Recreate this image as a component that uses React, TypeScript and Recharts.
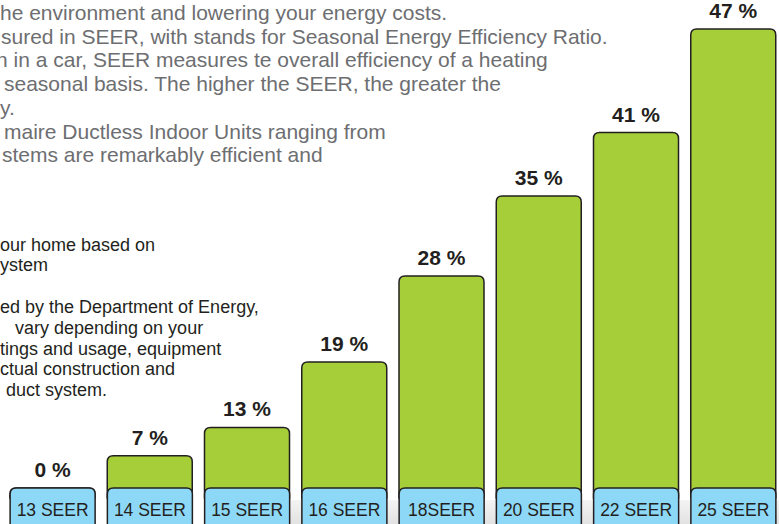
import React from "react"
import { BarChart, Bar, XAxis, YAxis, LabelList } from "recharts"

// SEER ratings and the savings printed above each bar
const categories = ["13 SEER", "14 SEER", "15 SEER", "16 SEER", "18SEER", "20 SEER", "22 SEER", "25 SEER"]
const savingsPercent = [0, 7, 13, 19, 28, 35, 41, 47]
// bar heights as drawn in the graphic (not to scale with the printed %), in % units
const drawnHeight = [0, 3.3, 6.2, 12.9, 21.7, 29.9, 36.4, 47]

// page copy sitting behind the chart (cut off at the left edge)
const introLines = [
  "he environment and lowering your energy costs.",
  "sured in SEER, with stands for Seasonal Energy Efficiency Ratio.",
  "n in a car, SEER measures te overall efficiency of a heating",
  "seasonal basis. The higher the SEER, the greater the",
  "y.",
  "maire Ductless Indoor Units ranging from",
  "stems are remarkably efficient and"
]
const introIndent = [0, 1, -4, 4, 0, 4, 2]
const noteLines = [
  "our home based on",
  "ystem",
  "",
  "ed by the Department of Energy,",
  "vary depending on your",
  "tings and usage, equipment",
  "ctual construction and",
  "duct system."
]
const noteIndent = [0, 0, 0, 0, 15, 0, 0, 6]

const chartData = categories.map((name, i) => ({
  name,
  height: drawnHeight[i],
  label: `${savingsPercent[i]} %`
}))

const FONT = "Arial, 'Liberation Sans', Helvetica, sans-serif"
const INK = "#231f20"

function roundTopPath(x: number, y: number, w: number, h: number, r: number) {
  return `M${x},${y + h} L${x},${y + r} Q${x},${y} ${x + r},${y} L${x + w - r},${y} Q${x + w},${y} ${x + w},${y + r} L${x + w},${y + h} Z`
}

function GreenBar(props: any) {
  const { x, y, width, height } = props
  if (x == null || y == null) return null
  // runs a little under the blue label box, like the original artwork
  return (
    <path
      d={roundTopPath(x, y, width, (height || 0) + 10, 6)}
      fill="#a6ce39"
      stroke={INK}
      strokeWidth={1.5}
    />
  )
}

function SeerTick(props: any) {
  const { x, y, payload } = props
  const w = 85
  return (
    <g>
      <path
        d={roundTopPath(x - w / 2, y, w, 60, 6)}
        fill="#8ed8f7"
        stroke={INK}
        strokeWidth={1.5}
      />
      <text
        x={x}
        y={y + 28}
        textAnchor="middle"
        fontFamily={FONT}
        fontSize={17.5}
        fill={INK}
      >
        {payload.value}
      </text>
    </g>
  )
}

export default function App() {
  return (
    <div
      style={{
        position: "absolute",
        left: 0,
        top: 0,
        width: 779,
        height: 524,
        overflow: "hidden",
        background: "#fff"
      }}
    >
      <svg width={779} height={524} style={{ position: "absolute", left: 0, top: 0 }}>
        <defs>
          <linearGradient id="floorShade" x1="0" y1="0" x2="0" y2="1">
            <stop offset="0%" stopColor="#f4f4f4" />
            <stop offset="100%" stopColor="#e2e2e3" />
          </linearGradient>
        </defs>
        <rect x={290} y={500} width={489} height={24} fill="url(#floorShade)" />
        {introLines.map((line, i) => (
          <text
            key={"a" + i}
            x={introIndent[i]}
            y={20 + i * 23.7}
            fontFamily={FONT}
            fontSize={21}
            fill="#6d6e71"
          >
            {line}
          </text>
        ))}
        {noteLines.map((line, i) => (
          <text
            key={"b" + i}
            x={noteIndent[i]}
            y={250.5 + i * 20.8}
            fontFamily={FONT}
            fontSize={18}
            fill={INK}
          >
            {line}
          </text>
        ))}
      </svg>

      <div style={{ position: "absolute", left: 0, top: 0 }}>
        <BarChart
          width={782}
          height={540}
          data={chartData}
          margin={{ top: 29, right: 0, left: 4, bottom: 0 }}
        >
          <YAxis hide domain={[0, 47]} />
          <Bar
            dataKey="height"
            barSize={85}
            shape={<GreenBar />}
            isAnimationActive={false}
          >
            <LabelList
              dataKey="label"
              position="top"
              offset={11}
              fill={INK}
              fontSize={21}
              fontWeight="bold"
              fontFamily={FONT}
            />
          </Bar>
          <XAxis
            dataKey="name"
            height={52}
            axisLine={false}
            tickLine={false}
            tickSize={0}
            tickMargin={0}
            interval={0}
            tick={<SeerTick />}
          />
        </BarChart>
      </div>
    </div>
  )
}
